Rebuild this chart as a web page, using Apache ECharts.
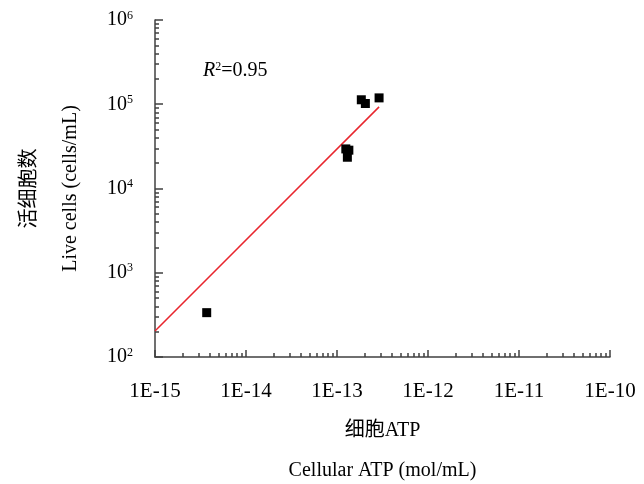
<!DOCTYPE html>
<html>
<head>
<meta charset="utf-8">
<script src="https://cdn.jsdelivr.net/npm/echarts@6/dist/echarts.min.js"></script>
<style>
    html, body { margin: 0; padding: 0; background: #fff; }
    #main { width: 644px; height: 484px; }
</style>
</head>
<body>
<div id="main"></div>
<script>
(function () {
    "use strict";
    // 散点: [细胞ATP (mol/mL), 活细胞数 (cells/mL)]
    var atpValues = [3.7e-15, 1.25e-13, 1.35e-13, 1.3e-13, 1.85e-13, 2.05e-13, 2.9e-13];
    var cellValues = [336, 2.95e4, 2.85e4, 2.35e4, 1.13e5, 1.02e5, 1.19e5];
    // 拟合线两端
    var fitAtp = [1e-15, 2.9e-13];
    var fitCells = [204, 9.3e4];
    var xTicks = [1e-15, 1e-14, 1e-13, 1e-12, 1e-11, 1e-10];
    var yTicks = [1e2, 1e3, 1e4, 1e5, 1e6];
    var r2Text = "0.95";

    var font = "'Liberation Serif', 'Noto Sans CJK SC', serif";

    var minorOf = function (majors) {
        var out = [];
        for (var i = 0; i < majors.length - 1; i++) {
            for (var k = 2; k <= 9; k++) {
                out.push(majors[i] * k);
            }
        }
        return out;
    };

    var points = [];
    for (var i = 0; i < atpValues.length; i++) {
        points.push([atpValues[i], cellValues[i]]);
    }
    var fitLine = [];
    for (var j = 0; j < fitAtp.length; j++) {
        fitLine.push([fitAtp[j], fitCells[j]]);
    }

    var axisLineStyle = {color: '#404040', width: 1.5};

    var myChart = echarts.init(document.getElementById('main'));
    var option = {
        backgroundColor: '#fff',
        animation: false,
        title: {
            text: '{i|R}{s|2}{n|=' + r2Text + '}',
            left: 198,
            top: 56,
            textStyle: {
                fontWeight: 'normal',
                rich: {
                    i: {fontFamily: font, fontSize: 20, fontStyle: 'italic', fontWeight: 'normal', color: '#000'},
                    s: {fontFamily: font, fontSize: 12, fontWeight: 'normal', color: '#000', verticalAlign: 'top', padding: [0, 0, 8, 0]},
                    n: {fontFamily: font, fontSize: 20, fontWeight: 'normal', color: '#000'}
                }
            }
        },
        grid: {
            left: 155,
            right: 34,
            top: 20,
            bottom: 127,
            outerBoundsMode: 'none'
        },
        xAxis: [
            {
                type: 'log',
                logBase: 10,
                min: xTicks[0],
                max: xTicks[xTicks.length - 1],
                name: '{c|细胞ATP}\n{e|Cellular ATP (mol/mL)}',
                nameLocation: 'middle',
                nameGap: 54,
                nameTextStyle: {
                    rich: {
                        c: {fontFamily: font, fontSize: 20, color: '#000', lineHeight: 40},
                        e: {fontFamily: font, fontSize: 20, color: '#000', lineHeight: 40}
                    }
                },
                axisLine: {show: true, lineStyle: axisLineStyle},
                axisTick: {show: true, inside: true, length: 7, lineStyle: axisLineStyle, customValues: xTicks},
                axisLabel: {
                    customValues: xTicks,
                    margin: 24,
                    fontFamily: font,
                    fontSize: 21,
                    color: '#000',
                    formatter: function (v) {
                        return '1E' + Math.round(Math.log10(v));
                    }
                },
                splitLine: {show: false}
            },
            {
                // 次刻度
                type: 'log',
                logBase: 10,
                position: 'bottom',
                min: xTicks[0],
                max: xTicks[xTicks.length - 1],
                axisLine: {show: false},
                axisTick: {show: true, inside: true, length: 4, lineStyle: axisLineStyle, customValues: minorOf(xTicks)},
                axisLabel: {show: false},
                splitLine: {show: false}
            }
        ],
        yAxis: [
            {
                type: 'log',
                logBase: 10,
                min: yTicks[0],
                max: yTicks[yTicks.length - 1],
                name: '{c|活细胞数}\n{e|Live cells (cells/mL)}',
                nameLocation: 'middle',
                nameRotate: 90,
                nameGap: 64,
                nameTextStyle: {
                    rich: {
                        c: {fontFamily: font, fontSize: 20, color: '#000', lineHeight: 41},
                        e: {fontFamily: font, fontSize: 20, color: '#000', lineHeight: 41}
                    }
                },
                axisLine: {show: true, lineStyle: axisLineStyle},
                axisTick: {show: true, inside: true, length: 8, lineStyle: axisLineStyle, customValues: yTicks},
                axisLabel: {
                    customValues: yTicks,
                    margin: 22,
                    formatter: function (v) {
                        return '{b|10}{s|' + Math.round(Math.log10(v)) + '}';
                    },
                    rich: {
                        b: {fontFamily: font, fontSize: 20, color: '#000'},
                        s: {fontFamily: font, fontSize: 12, color: '#000', verticalAlign: 'top', padding: [0, 0, 9, 0]}
                    }
                },
                splitLine: {show: false}
            },
            {
                type: 'log',
                logBase: 10,
                position: 'left',
                min: yTicks[0],
                max: yTicks[yTicks.length - 1],
                axisLine: {show: false},
                axisTick: {show: true, inside: true, length: 4, lineStyle: axisLineStyle, customValues: minorOf(yTicks)},
                axisLabel: {show: false},
                splitLine: {show: false}
            }
        ],
        series: [
            {
                name: 'fit',
                type: 'line',
                data: fitLine,
                symbol: 'none',
                lineStyle: {color: '#e8262e', width: 1.5},
                silent: true,
                z: 2
            },
            {
                name: 'points',
                type: 'scatter',
                data: points,
                symbol: 'rect',
                symbolSize: 9,
                itemStyle: {color: '#000', opacity: 1},
                z: 3
            }
        ]
    };
    myChart.setOption(option);
})();
</script>
</body>
</html>
